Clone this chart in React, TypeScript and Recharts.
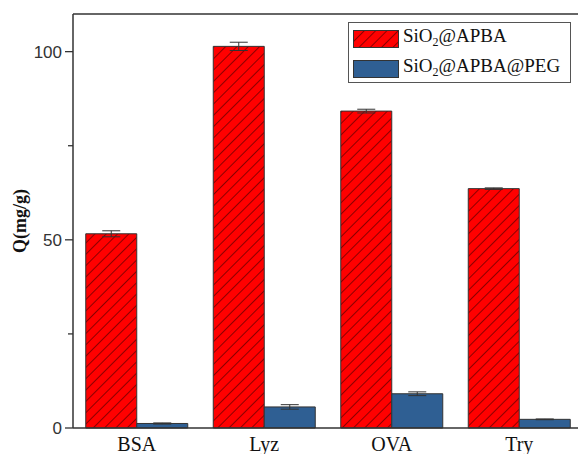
import React from "react";
import { BarChart, Bar, XAxis, YAxis, ErrorBar, ReferenceLine } from "recharts";

const proteins = ["BSA", "Lyz", "OVA", "Try"];
const apba = [51.6, 101.4, 84.2, 63.6];
const apbaErr = [0.8, 1.1, 0.5, 0.2];
const peg = [1.2, 5.6, 9.1, 2.3];
const pegErr = [0.15, 0.6, 0.5, 0.1];
const yTicks = [0, 25, 50, 75, 100];
const yLabels = [0, 50, 100];

const RED = "#ff0000";
const BLUE = "#2f5f93";
const INK = "#333333";
const SERIF = "'Liberation Serif', 'Times New Roman', serif";

const data = proteins.map((name, i) => ({
  name,
  apba: apba[i],
  apbaErr: apbaErr[i],
  peg: peg[i],
  pegErr: pegErr[i],
}));

// left axis ticks: long ticks with labels, short unlabeled minor ticks
function YTick(props: any) {
  const { x, y, payload } = props;
  const major = yLabels.includes(payload.value);
  return (
    <g>
      <line x1={x - (major ? 8 : 5)} x2={x} y1={y} y2={y} stroke={INK} strokeWidth={1.3} />
      {major && (
        <text
          x={x - 11}
          y={y}
          dy={6}
          textAnchor="end"
          fill="#333"
          fontFamily="'Liberation Sans', Arial, sans-serif"
          fontSize={17}
        >
          {payload.value}
        </text>
      )}
    </g>
  );
}

function Swatch({ fill }: { fill: string }) {
  return (
    <svg width={46} height={18} style={{ display: "block" }}>
      <rect x={0.5} y={0.5} width={45} height={17} fill={fill} stroke={INK} strokeWidth={1} />
    </svg>
  );
}

function LegendBox() {
  const rows = [
    { fill: "url(#hatch)", tail: "@APBA" },
    { fill: BLUE, tail: "@APBA@PEG" },
  ];
  return (
    <div
      style={{
        position: "absolute",
        left: 348,
        top: 22,
        border: "1px solid #555",
        width: 223,
        height: 61,
        background: "#fff",
        boxSizing: "border-box",
        padding: "7px 0 0 4px",
        fontFamily: SERIF,
        fontSize: 19,
        color: "#111",
      }}
    >
      {rows.map((r) => (
        <div key={r.tail} style={{ display: "flex", alignItems: "center", height: 18, marginBottom: 12 }}>
          <Swatch fill={r.fill} />
          <span style={{ marginLeft: 4, lineHeight: "18px", whiteSpace: "nowrap" }}>
            SiO<sub style={{ fontSize: 12, verticalAlign: "-4px" }}>2</sub>
            {r.tail}
          </span>
        </div>
      ))}
    </div>
  );
}

export default function App() {
  return (
    <div
      style={{
        position: "absolute",
        left: 0,
        top: 0,
        width: 578,
        height: 454,
        overflow: "hidden",
        background: "#fff",
      }}
    >
      <BarChart
        width={600}
        height={454}
        data={data}
        margin={{ top: 14, right: 17, bottom: 0, left: 0 }}
        barCategoryGap="10%"
        barGap={0}
      >
        <defs>
          <pattern
            id="hatch"
            patternUnits="userSpaceOnUse"
            width={8}
            height={8}
            patternTransform="rotate(45)"
          >
            <rect width={8} height={8} fill={RED} />
            <line x1={0} y1={0} x2={0} y2={8} stroke="#5a0000" strokeWidth={1.4} />
          </pattern>
        </defs>
        <XAxis
          dataKey="name"
          height={26}
          tickLine={false}
          axisLine={{ stroke: INK, strokeWidth: 1.5 }}
          tick={{ fill: "#111", fontSize: 20, fontFamily: SERIF }}
          tickMargin={3}
        />
        <YAxis
          width={73}
          domain={[0, 110]}
          ticks={yTicks}
          interval={0}
          tickLine={false}
          tickSize={0}
          tickMargin={0}
          axisLine={{ stroke: INK, strokeWidth: 1.5 }}
          tick={<YTick />}
          label={{
            value: "Q(mg/g)",
            angle: -90,
            position: "insideLeft",
            dx: 15,
            dy: 0,
            style: {
              fontFamily: SERIF,
              fontWeight: "bold",
              fontSize: 18,
              fill: "#111",
              textAnchor: "middle",
            },
          }}
        />
        <ReferenceLine y={110} stroke={INK} strokeWidth={1.5} />
        <Bar dataKey="apba" fill="url(#hatch)" stroke={INK} strokeWidth={1} isAnimationActive={false}>
          <ErrorBar dataKey="apbaErr" direction="y" width={9} stroke={INK} strokeWidth={1} />
        </Bar>
        <Bar dataKey="peg" fill={BLUE} stroke={INK} strokeWidth={1} isAnimationActive={false}>
          <ErrorBar dataKey="pegErr" direction="y" width={9} stroke={INK} strokeWidth={1} />
        </Bar>
      </BarChart>
      <LegendBox />
    </div>
  );
}
